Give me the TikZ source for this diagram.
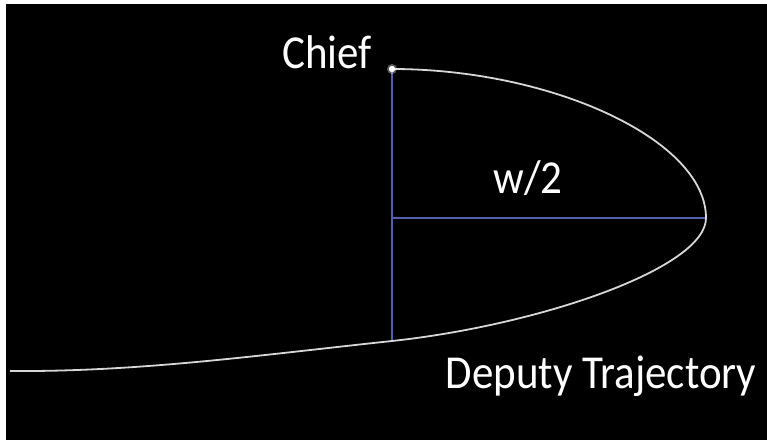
\documentclass[tikz,border=0pt]{standalone}
\usepackage{fontspec}
\setmainfont{Carlito}
\definecolor{trajwhite}{RGB}{215,215,215}
\definecolor{axisblue}{RGB}{85,95,175}
\tikzset{
  lbl/.style={text=white, anchor=base, inner sep=0pt, font=\fontsize{43}{50}\selectfont},
  traj/.style={draw=trajwhite, line width=1.8pt},
  axisline/.style={draw=axisblue, line width=1.4pt},
  chiefdot/.style={circle, fill=white, inner sep=0pt, minimum size=6pt},
}
\newcommand{\tallify}[1]{\scalebox{1}[1.1]{#1}}
\begin{document}
\begin{tikzpicture}[x=1pt, y=-1pt]
  \useasboundingbox (0,0) rectangle (767,439);
  \fill[white] (0,0) rectangle (767,439);
  \fill[black] (6,4) rectangle (772,444);
  % named points
  \coordinate (mid) at (392,218);
  \coordinate (tip) at (706,218);
  \coordinate (cross) at (392,341);
  \coordinate (leftend) at (10,371);
  % blue construction lines
  \node[chiefdot] (chief) at (392,69) {};
  \draw[axisline] (chief.center) -- (cross);
  \draw[axisline] (mid) -- (tip);
  % deputy trajectory
  \draw[traj] (chief.center) .. controls (552,69) and (706,140) .. (tip)
                .. controls (706,268) and (540,325) .. (cross)
                .. controls (260,355) and (140,372) .. (leftend);
  \fill[white, opacity=0.35] (chief) circle (5pt);
  \node[chiefdot] at (chief) {};
  % labels
  \node[lbl] (chieflbl) at (327,68) {\tallify{Chief}};
  \node[lbl] (wlbl) at (528,193) {\tallify{w/2}};
  \node[lbl] (deplbl) at (601,388) {\tallify{Deputy Trajectory}};
\end{tikzpicture}
\end{document}
